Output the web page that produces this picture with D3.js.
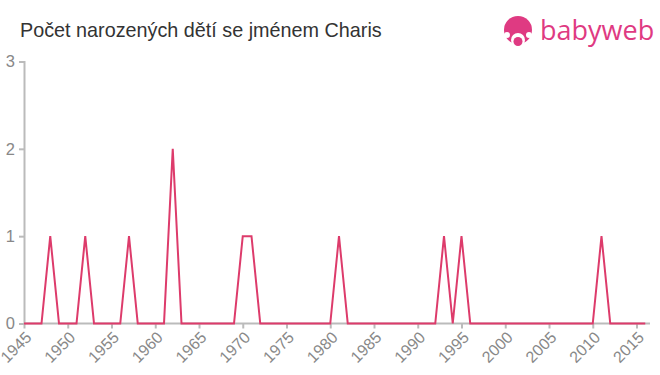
<!DOCTYPE html>
<html lang="cs">
<head>
<meta charset="UTF-8">
<title>Charis</title>
<script src="https://d3js.org/d3.v7.min.js"></script>
<style>
    body { margin: 0; background: #fff; }
    svg { display: block; font-family: "Liberation Sans", Arial, sans-serif; }
</style>
</head>
<body>
<svg id="chart" width="660" height="375"></svg>
<script>
    const years = d3.range(1945, 2017);
    const births = {1948: 1, 1952: 1, 1957: 1, 1962: 2, 1970: 1, 1971: 1, 1981: 1, 1993: 1, 1995: 1, 2011: 1};
    const values = years.map(y => births[y] || 0);
    const yTicks = [0, 1, 2, 3];
    const xTicks = d3.range(1945, 2016, 5);

    const svg = d3.select("#chart");
    const plot = { left: 24, right: 636.5, top: 61.5, bottom: 323.5 };

    const x = d3.scaleLinear().domain([1945, 2015]).range([plot.left, plot.right]);
    const y = d3.scaleLinear().domain([0, 3]).range([plot.bottom, plot.top]);

    // title
    svg.append("text")
        .attr("x", 20).attr("y", 37)
        .attr("font-size", 19.8)
        .attr("fill", "#333")
        .text("Počet narozených dětí se jménem Charis");

    // logo
    const logo = svg.append("g").attr("fill", "#df3a82");
    logo.append("circle").attr("cx", 518).attr("cy", 30).attr("r", 14);
    logo.append("circle").attr("cx", 518).attr("cy", 40).attr("r", 7).attr("fill", "#fff");
    logo.append("circle").attr("cx", 518).attr("cy", 41.5).attr("r", 4.5);
    logo.append("circle").attr("cx", 507).attr("cy", 35).attr("r", 3).attr("fill", "#fff");
    logo.append("circle").attr("cx", 529).attr("cy", 35).attr("r", 3).attr("fill", "#fff");
    logo.append("text")
        .attr("x", 540).attr("y", 40)
        .attr("font-size", 27)
        .attr("font-family", "'Open Sans', 'DejaVu Sans', sans-serif")
        .text("babyweb");

    // y axis
    const yAxis = svg.append("g")
        .attr("transform", `translate(${plot.left},0)`)
        .call(d3.axisLeft(y).tickValues(yTicks).tickSize(5).tickPadding(4).tickFormat(d3.format("d")));
    yAxis.select(".domain").attr("stroke", "#bbb").attr("stroke-width", 2);
    yAxis.selectAll(".tick line").attr("stroke", "#bbb").attr("stroke-width", 2);
    yAxis.selectAll(".tick text").attr("fill", "#888").attr("font-size", 16.5)
        .attr("font-family", "'Liberation Sans', Arial, sans-serif");

    // x axis
    const xAxis = svg.append("g")
        .attr("transform", `translate(0,${plot.bottom})`)
        .call(d3.axisBottom(x).tickValues(xTicks).tickSize(5).tickFormat(d3.format("d")));
    xAxis.select(".domain").attr("d", `M${plot.left},0H650`).attr("stroke", "#bbb").attr("stroke-width", 2);
    xAxis.selectAll(".tick line").attr("stroke", "#bbb").attr("stroke-width", 2);
    xAxis.selectAll(".tick text")
        .attr("fill", "#888").attr("font-size", 16)
        .attr("font-family", "'Liberation Sans', Arial, sans-serif")
        .attr("text-anchor", "end")
        .attr("dy", null)
        .attr("transform", "translate(5,12) rotate(-45)")
        .attr("y", 0).attr("x", 0)
        .attr("dominant-baseline", "middle");

    // line
    const line = d3.line()
        .x((d, i) => x(years[i]))
        .y(d => y(d));
    svg.append("path")
        .datum(values)
        .attr("fill", "none")
        .attr("stroke", "#dd3b6b")
        .attr("stroke-width", 2)
        .attr("stroke-linejoin", "miter")
        .attr("d", line);
</script>
</body>
</html>
